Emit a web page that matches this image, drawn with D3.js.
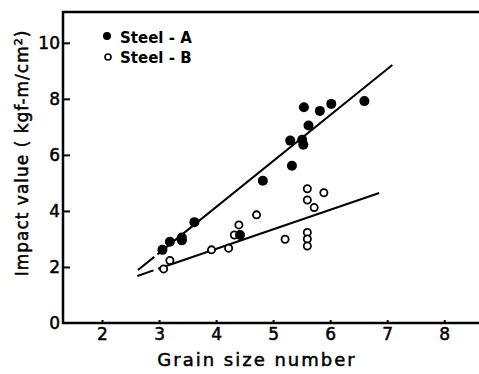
<!DOCTYPE html>
<html>
<head>
<meta charset="utf-8">
<script src="https://cdn.jsdelivr.net/npm/d3@7"></script>
<style>
  body { margin: 0; background: #fff; }
  svg text { font-family: "DejaVu Sans", sans-serif; fill: #000; }
</style>
</head>
<body>
<div id="chart"></div>
<script>
// grain size number / impact value (kgf-m/cm2)
var steelA_x = [3.06, 3.19, 3.40, 3.40, 3.62, 4.42, 4.82, 5.33, 5.30, 5.51, 5.53, 5.62, 5.54, 5.82, 6.02, 6.60];
var steelA_y = [2.61, 2.90, 2.95, 3.05, 3.60, 3.14, 5.08, 5.61, 6.51, 6.54, 6.36, 7.05, 7.70, 7.57, 7.82, 7.92];
var steelB_x = [3.08, 3.19, 3.92, 4.22, 4.32, 4.40, 4.71, 5.21, 5.60, 5.89, 5.60, 5.72, 5.60, 5.60, 5.60];
var steelB_y = [1.93, 2.23, 2.61, 2.67, 3.14, 3.50, 3.86, 2.99, 4.79, 4.65, 4.39, 4.12, 3.23, 3.00, 2.75];
// fitted lines, end points
var lineA = [[2.63, 1.89], [7.09, 9.21]];
var lineB = [[2.62, 1.68], [6.86, 4.64]];
var xTicks = [2, 3, 4, 5, 6, 7, 8];
var yTicks = [0, 2, 4, 6, 8, 10];

var W = 479, H = 374;
var mLeft = 63, mTop = 12, mBottom = 323;

var x = d3.scaleLinear().domain([1.316, 8.61]).range([mLeft, W]);
var y = d3.scaleLinear().domain([0, 11.1]).range([mBottom, mTop]);

var svg = d3.select('#chart').append('svg')
    .attr('width', W)
    .attr('height', H);

// axes
var xAxis = d3.axisBottom(x).tickValues(xTicks).tickSize(-3).tickPadding(5).tickFormat(d3.format('d'));
var yAxis = d3.axisLeft(y).tickValues(yTicks).tickSize(-7).tickPadding(3).tickFormat(d3.format('d'));

var gx = svg.append('g').attr('transform', 'translate(0,' + mBottom + ')').call(xAxis);
var gy = svg.append('g').attr('transform', 'translate(' + mLeft + ',0)').call(yAxis);
[gx, gy].forEach(function(g) {
    g.select('.domain').remove();
    g.selectAll('line').attr('stroke', '#000').attr('stroke-width', 2);
    g.selectAll('text').style('font-size', '17px').style('font-family', '"DejaVu Sans", sans-serif')
        .attr('stroke', '#000').attr('stroke-width', 0.5);
});
gy.selectAll('.tick').filter(function(d) { return d === 0; }).select('line').remove();

// frame (open on the right)
svg.append('path')
    .attr('d', 'M' + W + ',' + mTop + 'H' + mLeft + 'V' + mBottom + 'H' + W)
    .attr('fill', 'none')
    .attr('stroke', '#000')
    .attr('stroke-width', 2.5);

// fitted lines
var line = d3.line().x(function(d) { return x(d[0]); }).y(function(d) { return y(d[1]); });
svg.append('path').datum(lineA).attr('d', line)
    .attr('fill', 'none').attr('stroke', '#000').attr('stroke-width', 2)
    .attr('stroke-dasharray', '21,4,1000');
svg.append('path').datum(lineB).attr('d', line)
    .attr('fill', 'none').attr('stroke', '#000').attr('stroke-width', 2)
    .attr('stroke-dasharray', '17,5,1000');

// points
svg.append('g').selectAll('circle')
    .data(d3.range(steelB_x.length))
    .enter().append('circle')
    .attr('cx', function(i) { return x(steelB_x[i]); })
    .attr('cy', function(i) { return y(steelB_y[i]); })
    .attr('r', 3.6)
    .attr('fill', '#fff')
    .attr('stroke', '#000')
    .attr('stroke-width', 1.8);

svg.append('g').selectAll('circle')
    .data(d3.range(steelA_x.length))
    .enter().append('circle')
    .attr('cx', function(i) { return x(steelA_x[i]); })
    .attr('cy', function(i) { return y(steelA_y[i]); })
    .attr('r', 5)
    .attr('fill', '#000');

// legend
var leg = svg.append('g');
leg.append('circle').attr('cx', 107).attr('cy', 36).attr('r', 4).attr('fill', '#000');
leg.append('circle').attr('cx', 108).attr('cy', 57).attr('r', 3).attr('fill', '#fff')
    .attr('stroke', '#000').attr('stroke-width', 1.6);
leg.append('text').attr('x', 120).attr('y', 43).style('font-size', '15px').style('font-weight', 'bold')
    .text('Steel - A');
leg.append('text').attr('x', 120).attr('y', 63).style('font-size', '15px').style('font-weight', 'bold')
    .text('Steel - B');

// axis titles
svg.append('text')
    .attr('x', 257).attr('y', 366)
    .attr('text-anchor', 'middle')
    .attr('stroke', '#000').attr('stroke-width', 0.5)
    .style('font-size', '18px')
    .style('letter-spacing', '2px')
    .text('Grain size number');

var yt = svg.append('text')
    .attr('transform', 'translate(28,153) rotate(-90)')
    .attr('text-anchor', 'middle')
    .attr('stroke', '#000').attr('stroke-width', 0.5)
    .style('font-size', '17px')
    .style('letter-spacing', '1px');
yt.append('tspan').text('Impact value ( kgf-m/cm');
yt.append('tspan').attr('dy', -6).style('font-size', '11px').text('2');
yt.append('tspan').attr('dy', 6).text(')');
</script>
</body>
</html>
